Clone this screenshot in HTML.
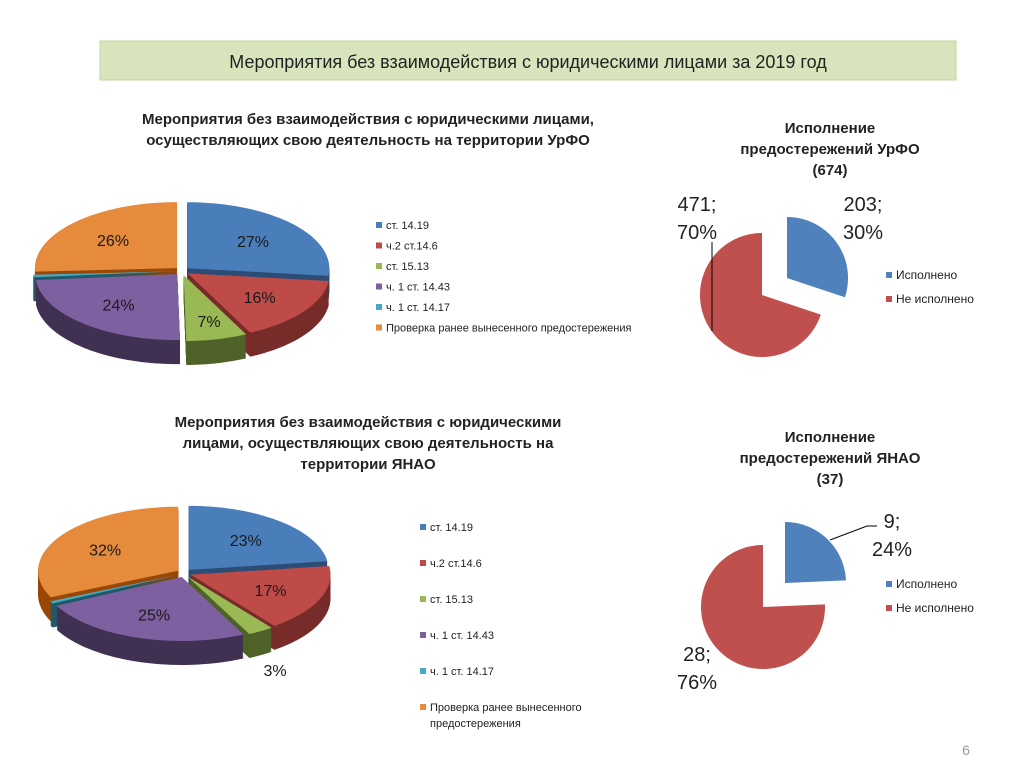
<!DOCTYPE html>
<html><head><meta charset="utf-8">
<style>
body{margin:0;background:#fff;}
svg{display:block;font-family:"Liberation Sans","DejaVu Sans",sans-serif;}
</style></head>
<body>
<svg id="s" width="1024" height="782" viewBox="0 0 1024 782">
<rect x="100" y="41" width="856" height="39" fill="#d8e4bc" stroke="#c3d69b"/>
<text x="528" y="68" font-size="18" text-anchor="middle" fill="#222">Мероприятия без взаимодействия с юридическими лицами за 2019 год</text>

<text x="368" y="124" font-size="15" font-weight="bold" text-anchor="middle" fill="#222">Мероприятия без взаимодействия с юридическими лицами,</text>
<text x="368" y="145" font-size="15" font-weight="bold" text-anchor="middle" fill="#222">осуществляющих свою деятельность на территории УрФО</text>

<text x="368" y="427" font-size="15" font-weight="bold" text-anchor="middle" fill="#222">Мероприятия без взаимодействия с юридическими</text>
<text x="368" y="448" font-size="15" font-weight="bold" text-anchor="middle" fill="#222">лицами, осуществляющих свою деятельность на</text>
<text x="368" y="469" font-size="15" font-weight="bold" text-anchor="middle" fill="#222">территории ЯНАО</text>

<text x="830" y="133" font-size="15" font-weight="bold" text-anchor="middle" fill="#222">Исполнение</text>
<text x="830" y="154" font-size="15" font-weight="bold" text-anchor="middle" fill="#222">предостережений УрФО</text>
<text x="830" y="175" font-size="15" font-weight="bold" text-anchor="middle" fill="#222">(674)</text>

<text x="830" y="442" font-size="15" font-weight="bold" text-anchor="middle" fill="#222">Исполнение</text>
<text x="830" y="463" font-size="15" font-weight="bold" text-anchor="middle" fill="#222">предостережений ЯНАО</text>
<text x="830" y="484" font-size="15" font-weight="bold" text-anchor="middle" fill="#222">(37)</text>

<text x="966" y="755" font-size="14" fill="#999" text-anchor="middle">6</text>
</svg>
<script>
const cats3d = ["ст. 14.19","ч.2 ст.14.6","ст. 15.13","ч. 1 ст. 14.43","ч. 1 ст. 14.17","Проверка ранее вынесенного предостережения"];
const urfoValues = [27,16,7,24,0.6,26];
const urfoLabels = ["27%","16%","7%","24%","","26%"];
const yanaoValues = [23,17,3,25,0.6,32];
const yanaoLabels = ["23%","17%","3%","25%","","32%"];
const catsFlat = ["Исполнено","Не исполнено"];
const urfoExec = [203,471];
const urfoExecLabels = [["203;","30%"],["471;","70%"]];
const yanaoExec = [9,28];
const yanaoExecLabels = [["9;","24%"],["28;","76%"]];

const topCol = ["#4a7ebb","#be4b48","#98b954","#7d60a0","#46aac5","#e68a3c"];
const sideCol = ["#2c4d75","#772c2a","#4f6228","#403152","#215968","#984807"];
const NS = "http://www.w3.org/2000/svg";
const svg = document.getElementById("s");
function mk(tag, attrs, parent){const e=document.createElementNS(NS,tag);for(const k in attrs)e.setAttribute(k,attrs[k]);(parent||svg).appendChild(e);return e;}

function sectorPath(cx,cy,rx,ry,a0,a1){
  const p=[];const n=Math.max(2,Math.ceil((a1-a0)*40));
  p.push(`M${cx},${cy}`);
  for(let i=0;i<=n;i++){const t=a0+(a1-a0)*i/n;p.push(`L${(cx+rx*Math.sin(t)).toFixed(2)},${(cy-ry*Math.cos(t)).toFixed(2)}`);}
  return p.join(" ")+"Z";
}

function pie3d(values, labels, cx, cy, rx, ry, depth, name, labelPos){
  const total = values.reduce((a,b)=>a+b,0);
  const g = mk("g",{});
  
  
  const sl=[];let a=0;
  values.forEach((v,i)=>{const a0=a;const a1=a+v/total*2*Math.PI;a=a1;const m=(a0+a1)/2;
    const ex=7;sl.push({a0,a1,m,ox:cx+ex*Math.sin(m),oy:cy-ex*0.6*Math.cos(m),i});});
  for(let d=depth;d>=1;d--){
    sl.forEach(s=>{const p=mk("path",{d:sectorPath(s.ox,s.oy+d,rx,ry,s.a0,s.a1),fill:sideCol[s.i]},g);
      
      });
  }
  sl.forEach(s=>{const p=mk("path",{d:sectorPath(s.ox,s.oy,rx,ry,s.a0,s.a1),fill:topCol[s.i]},g);
    
    
    if(labels[s.i]){
      const lp = labelPos && labelPos[s.i];
      const lx = lp? lp[0] : s.ox+rx*0.62*Math.sin(s.m);
      const ly = lp? lp[1] : s.oy-ry*0.62*Math.cos(s.m)+6;
      const t=mk("text",{x:lx,y:ly,"font-size":16,"text-anchor":"middle",fill:"#1a1a1a"},g);
      t.textContent=labels[s.i];
      
      
    }
  });
}

pie3d(urfoValues, urfoLabels, 182, 271, 142, 66, 24, "urfo-pie", {2:[209,327]});
pie3d(yanaoValues, yanaoLabels, 184, 573, 140, 64, 24, "yanao-pie", {2:[275,676]});

function legend(cats, x, y, step, name){
  cats.forEach((c,i)=>{
    const r=mk("rect",{x:x,y:y+i*step-7,width:6,height:6,fill:topCol[i]});
    
    
    const lines = (step>30 && c.length>30) ? ["Проверка ранее вынесенного","предостережения"] : [c];
    lines.forEach((ln,j)=>{
      const t=mk("text",{x:x+10,y:y+i*step+j*16,"font-size":11,fill:"#222"});
      t.textContent=ln;
      
      
    });
  });
}
legend(cats3d, 376, 229, 20.5, "urfo-legend");
legend(cats3d, 420, 531, 36, "yanao-legend");

function flatPie(values, labels, blueApex, redApex, r, name){
  const total=values[0]+values[1];
  const a1=values[0]/total*2*Math.PI;
  const b=mk("path",{d:sectorPath(blueApex[0],blueApex[1],r,r,0,a1),fill:"#4f81bd"});
  
  
  const rr=mk("path",{d:sectorPath(redApex[0],redApex[1],r+1,r+1,a1,2*Math.PI),fill:"#c0504d"});
  
  
}
flatPie(urfoExec, urfoExecLabels, [787,278], [762,295], 61, "urfo-exec-pie");
flatPie(yanaoExec, yanaoExecLabels, [785,583], [763,607], 61, "yanao-exec-pie");

function bigLabel(lines,x,y,name){
  lines.forEach((l,j)=>{const t=mk("text",{x:x,y:y+j*28,"font-size":20,"text-anchor":"middle",fill:"#222"});
    t.textContent=l;
    
    });
}
bigLabel(urfoExecLabels[1],697,211,"urfo-not-executed-label");
bigLabel(urfoExecLabels[0],863,211,"urfo-executed-label");
bigLabel(yanaoExecLabels[0],892,528,"yanao-executed-label");
bigLabel(yanaoExecLabels[1],697,661,"yanao-not-executed-label");

let l1=mk("line",{x1:712,y1:242,x2:712,y2:331,stroke:"#000","stroke-width":1});


let l2=mk("path",{d:"M830,540 L867,526 L877,526",stroke:"#000","stroke-width":1,fill:"none"});



function legend2(x,y,name){
  ["#4f81bd","#c0504d"].forEach((c,i)=>{
    const r=mk("rect",{x:x,y:y+i*24-7,width:6,height:6,fill:c});
    
    
    const t=mk("text",{x:x+10,y:y+i*24,"font-size":12,fill:"#222"});
    t.textContent=catsFlat[i];
    
    
  });
}
legend2(886,279,"urfo-exec-legend");
legend2(886,588,"yanao-exec-legend");
</script>
</body></html>
